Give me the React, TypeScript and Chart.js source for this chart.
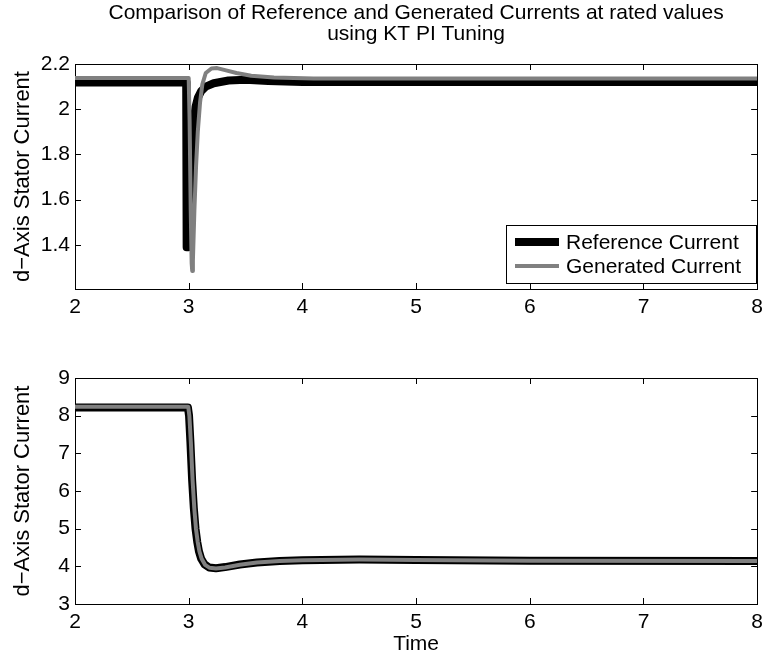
import React, { useEffect, useRef } from 'react';
import { Chart, registerables } from 'chart.js';

Chart.register(...registerables);

// ---------- text ----------
const titleLines = [
  'Comparison of Reference and Generated Currents at rated values',
  'using KT PI Tuning',
];
const yAxisLabel = 'd\u2212Axis Stator Current';
const xAxisLabel = 'Time';
const seriesLabels = ['Reference Current', 'Generated Current'];

// ---------- ticks ----------
const xTicks = [2, 3, 4, 5, 6, 7, 8];
const topYTicks = [1.4, 1.6, 1.8, 2, 2.2];
const bottomYTicks = [3, 4, 5, 6, 7, 8, 9];

// ---------- top panel data ----------
const topRefTime = [2, 2.978, 2.982, 3.0, 3.01, 3.02, 3.03, 3.045, 3.06, 3.08, 3.11, 3.15, 3.22, 3.35, 3.5, 3.7, 4.0, 8];
const topRefValue = [2.118, 2.118, 1.39, 1.39, 1.5, 1.68, 1.83, 1.95, 2.01, 2.05, 2.08, 2.1, 2.115, 2.127, 2.13, 2.125, 2.12, 2.12];

const topGenTime = [2, 3.0, 3.008, 3.018, 3.026, 3.031, 3.037, 3.05, 3.065, 3.08, 3.1, 3.12, 3.15, 3.2, 3.25, 3.32, 3.42, 3.55, 3.75, 4.1, 8];
const topGenValue = [2.138, 2.138, 1.95, 1.55, 1.32, 1.285, 1.33, 1.55, 1.75, 1.9, 2.03, 2.11, 2.16, 2.18, 2.182, 2.173, 2.16, 2.148, 2.14, 2.136, 2.136];

// ---------- bottom panel data ----------
const botRefTime = [2, 2.993, 3.003, 3.015, 3.03, 3.045, 3.06, 3.075, 3.09, 3.11, 3.14, 3.18, 3.24, 3.32, 3.45, 3.6, 3.8, 4.0, 4.5, 5.0, 6.0, 8];
const botRefValue = [8.22, 8.22, 8.0, 7.3, 6.3, 5.55, 5.0, 4.65, 4.4, 4.2, 4.05, 3.97, 3.95, 3.98, 4.05, 4.1, 4.14, 4.16, 4.18, 4.17, 4.15, 4.14];

const botGenTime = [2, 2.996, 3.006, 3.019, 3.034, 3.049, 3.064, 3.079, 3.094, 3.114, 3.144, 3.185, 3.24, 3.32, 3.45, 3.6, 3.8, 4.0, 4.5, 5.0, 6.0, 8];
const botGenValue = [8.24, 8.24, 8.0, 7.3, 6.3, 5.55, 5.0, 4.65, 4.4, 4.2, 4.04, 3.96, 3.94, 3.97, 4.04, 4.1, 4.14, 4.16, 4.18, 4.17, 4.15, 4.14];

const FONT = "'Liberation Sans', Arial, Helvetica, sans-serif";

const toPoints = (t: number[], v: number[]) => t.map((x, i) => ({ x, y: v[i] }));

const boxPlugin = {
  id: 'matlabBox',
  beforeDatasetsDraw(chart: any) {
    const { ctx, chartArea } = chart;
    const { left, right, top, bottom } = chartArea;
    const xs = chart.scales.x;
    const ys = chart.scales.y;
    const tl = 6;
    ctx.save();
    ctx.strokeStyle = '#000';
    ctx.lineWidth = 1;
    ctx.strokeRect(Math.round(left) + 0.5, Math.round(top) + 0.5, Math.round(right - left), Math.round(bottom - top));
    ctx.beginPath();
    xs.ticks.forEach((t: any) => {
      const px = Math.round(xs.getPixelForValue(t.value)) + 0.5;
      ctx.moveTo(px, bottom);
      ctx.lineTo(px, bottom - tl);
      ctx.moveTo(px, top);
      ctx.lineTo(px, top + tl);
    });
    ys.ticks.forEach((t: any) => {
      const py = Math.round(ys.getPixelForValue(t.value)) + 0.5;
      ctx.moveTo(left, py);
      ctx.lineTo(left + tl, py);
      ctx.moveTo(right, py);
      ctx.lineTo(right - tl, py);
    });
    ctx.stroke();
    ctx.restore();
  },
};

const legendPlugin = {
  id: 'insideLegend',
  afterDatasetsDraw(chart: any) {
    const { ctx, chartArea } = chart;
    const w = 250;
    const h = 58;
    const x0 = Math.round(chartArea.right - w - 1);
    const y0 = Math.round(chartArea.bottom - h - 6);
    ctx.save();
    ctx.fillStyle = '#fff';
    ctx.fillRect(x0, y0, w, h);
    ctx.strokeStyle = '#000';
    ctx.lineWidth = 1;
    ctx.strokeRect(x0 + 0.5, y0 + 0.5, w, h);
    chart.data.datasets.forEach((ds: any, i: number) => {
      const cy = y0 + 17 + i * 24;
      ctx.strokeStyle = ds.borderColor;
      ctx.lineWidth = ds.borderWidth;
      ctx.lineCap = 'butt';
      ctx.beginPath();
      ctx.moveTo(x0 + 9, cy);
      ctx.lineTo(x0 + 53, cy);
      ctx.stroke();
      ctx.fillStyle = '#000';
      ctx.font = `21px ${FONT}`;
      ctx.textBaseline = 'middle';
      ctx.textAlign = 'left';
      ctx.fillText(ds.label, x0 + 60, cy + 1);
    });
    ctx.restore();
  },
};

const tickFmt = (v: any) => String(Math.round(Number(v) * 1000) / 1000);

function makeConfig(opts: {
  ref: { x: number; y: number }[];
  gen: { x: number; y: number }[];
  yMin: number;
  yMax: number;
  yTicks: number[];
  showTitle: boolean;
  showXTitle: boolean;
  xAxisHeight: number;
  padTop: number;
  legend: boolean;
}) {
  const tickFont = { family: FONT, size: 21 };
  return {
    type: 'line',
    data: {
      datasets: [
        {
          label: seriesLabels[0],
          data: opts.ref,
          borderColor: '#000000',
          borderWidth: 8,
          pointRadius: 0,
          tension: 0,
          fill: false,
          order: 2,
          borderJoinStyle: 'round',
        },
        {
          label: seriesLabels[1],
          data: opts.gen,
          borderColor: '#808080',
          borderWidth: 4,
          pointRadius: 0,
          tension: 0,
          fill: false,
          order: 1,
          borderJoinStyle: 'round',
        },
      ],
    },
    options: {
      responsive: false,
      animation: false,
      events: [],
      layout: { padding: { left: 0, right: 9, top: opts.padTop, bottom: 0 } },
      plugins: {
        legend: { display: false },
        tooltip: { enabled: false },
        title: {
          display: opts.showTitle,
          fullSize: false,
          text: titleLines,
          color: '#000',
          font: { family: FONT, size: 21, weight: 'normal', lineHeight: 1.0 },
          padding: { top: 3, bottom: 19 },
        },
      },
      scales: {
        x: {
          type: 'linear',
          min: 2,
          max: 8,
          afterBuildTicks: (s: any) => {
            s.ticks = xTicks.map((v) => ({ value: v }));
          },
          afterFit: (s: any) => {
            s.height = opts.xAxisHeight;
          },
          grid: { display: false, drawTicks: false, tickLength: 0 },
          border: { display: false },
          ticks: { color: '#000', font: tickFont, padding: 6, maxRotation: 0, autoSkip: false, callback: tickFmt },
          title: {
            display: opts.showXTitle,
            text: xAxisLabel,
            color: '#000',
            font: { family: FONT, size: 21, lineHeight: 1.2 },
            padding: { top: 0, bottom: 2 },
          },
        },
        y: {
          type: 'linear',
          min: opts.yMin,
          max: opts.yMax,
          afterBuildTicks: (s: any) => {
            s.ticks = opts.yTicks.map((v) => ({ value: v }));
          },
          afterFit: (s: any) => {
            s.width = 75;
          },
          grid: { display: false, drawTicks: false, tickLength: 0 },
          border: { display: false },
          ticks: { color: '#000', font: tickFont, padding: 5, autoSkip: false, callback: tickFmt },
          title: {
            display: true,
            text: yAxisLabel,
            color: '#000',
            font: { family: FONT, size: 22, lineHeight: 1.2 },
            padding: { top: 10, bottom: 0 },
          },
        },
      },
    },
    plugins: opts.legend ? [boxPlugin, legendPlugin] : [boxPlugin],
  } as any;
}

export default function App() {
  const topRef = useRef<HTMLCanvasElement | null>(null);
  const botRef = useRef<HTMLCanvasElement | null>(null);

  useEffect(() => {
    if (!topRef.current || !botRef.current) return;
    const c1 = new Chart(
      topRef.current,
      makeConfig({
        ref: toPoints(topRefTime, topRefValue),
        gen: toPoints(topGenTime, topGenValue),
        yMin: 1.205,
        yMax: 2.2,
        yTicks: topYTicks,
        showTitle: true,
        showXTitle: false,
        xAxisHeight: 41,
        padTop: 0,
        legend: true,
      })
    );
    const c2 = new Chart(
      botRef.current,
      makeConfig({
        ref: toPoints(botRefTime, botRefValue),
        gen: toPoints(botGenTime, botGenValue),
        yMin: 3,
        yMax: 9,
        yTicks: bottomYTicks,
        showTitle: false,
        showXTitle: true,
        xAxisHeight: 55,
        padTop: 48,
        legend: false,
      })
    );
    return () => {
      c1.destroy();
      c2.destroy();
    };
  }, []);

  return (
    <div style={{ position: 'absolute', left: 0, top: 0, width: 769, height: 659, background: '#fff' }}>
      <canvas ref={topRef} width={769} height={330} style={{ position: 'absolute', left: 0, top: 0, width: 769, height: 330 }} />
      <canvas ref={botRef} width={769} height={329} style={{ position: 'absolute', left: 0, top: 330, width: 769, height: 329 }} />
    </div>
  );
}
